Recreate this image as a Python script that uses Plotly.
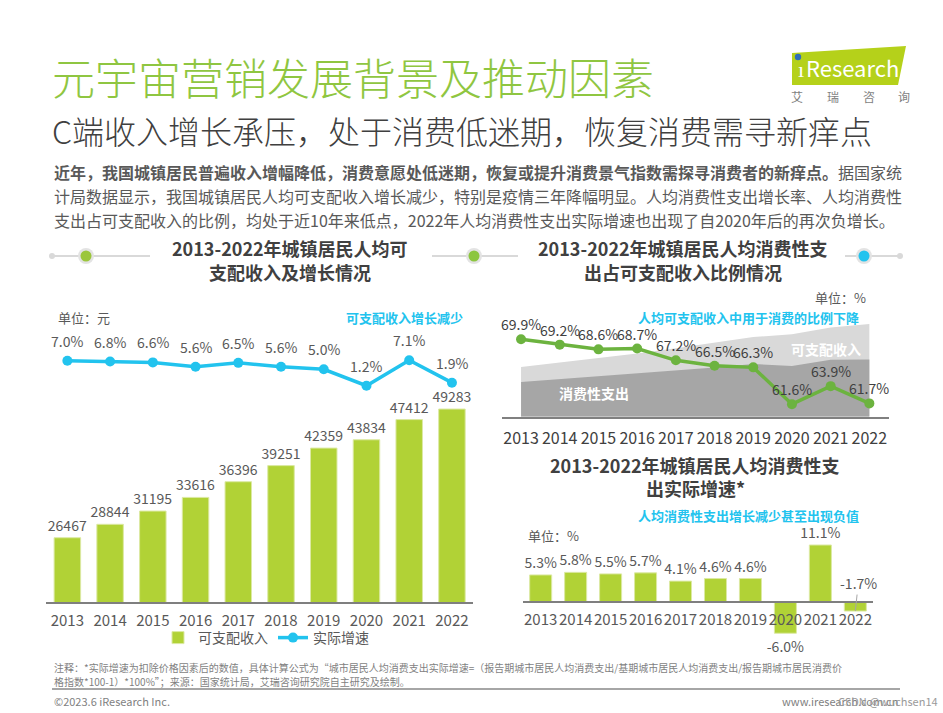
import plotly.graph_objects as go

W, H = 943, 713
FONT = "Noto Sans CJK SC"

years = ["2013", "2014", "2015", "2016", "2017", "2018", "2019", "2020", "2021", "2022"]
income = [26467, 28844, 31195, 33616, 36396, 39251, 42359, 43834, 47412, 49283]
income_growth = [7.0, 6.8, 6.6, 5.6, 6.5, 5.6, 5.0, 1.2, 7.1, 1.9]
consumption = [18488, 19968, 21392, 23079, 24445, 26112, 28063, 27007, 30307, 30391]
consume_ratio = [69.9, 69.2, 68.6, 68.7, 67.2, 66.5, 66.3, 61.6, 63.9, 61.7]
consume_growth = [5.3, 5.8, 5.5, 5.7, 4.1, 4.6, 4.6, -6.0, 11.1, -1.7]

GREEN_BAR = "#b1d236"
GREEN_LINE = "#6cb33f"
CYAN = "#22c3ee"
TITLE_GREEN = "#8fc641"
GREY_TXT = "#595959"
DARK_TXT = "#404040"


def px(x):
    return x / W


def py(y):
    return 1 - y / H


fig = go.Figure()

# ---- left chart: disposable income bars + growth line
fig.add_trace(go.Bar(
    x=years, y=income, name="可支配收入", xaxis="x", yaxis="y",
    marker=dict(color=GREEN_BAR, line=dict(color="#dce9a3", width=1)),
    width=0.62, text=[str(v) for v in income], textposition="outside",
    constraintext="none",
    textfont=dict(size=14, color=GREY_TXT, family=FONT), cliponaxis=False,
))
fig.add_trace(go.Scatter(
    x=years, y=income_growth, name="实际增速", xaxis="x", yaxis="y2",
    mode="lines+markers", line=dict(color=CYAN, width=3.5),
    marker=dict(color=CYAN, size=10), cliponaxis=False,
))

# ---- right top chart: share of income used for consumption
fig.add_trace(go.Scatter(
    x=years, y=income, xaxis="x2", yaxis="y3", mode="lines", fill="tozeroy",
    line=dict(width=0, color="#d9d9d9"), fillcolor="#d9d9d9", showlegend=False,
    hoverinfo="skip",
))
fig.add_trace(go.Scatter(
    x=years, y=consumption, xaxis="x2", yaxis="y3", mode="lines", fill="tozeroy",
    line=dict(width=0, color="#a6a6a6"), fillcolor="#a6a6a6", showlegend=False,
    hoverinfo="skip",
))
fig.add_trace(go.Scatter(
    x=years, y=consume_ratio, xaxis="x2", yaxis="y4", mode="lines+markers",
    line=dict(color=GREEN_LINE, width=3.5), marker=dict(color=GREEN_LINE, size=10),
    showlegend=False, cliponaxis=False,
))

# ---- right bottom chart: real consumption growth
bar_txt = [("" if y == "2022" else f"{v:.1f}%") for y, v in zip(years, consume_growth)]
fig.add_trace(go.Bar(
    x=years, y=consume_growth, xaxis="x3", yaxis="y5", showlegend=False,
    marker=dict(color=GREEN_BAR, line=dict(color="#dce9a3", width=1)),
    width=0.63, text=bar_txt, textposition="outside", constraintext="none",
    textfont=dict(size=14, color=GREY_TXT, family=FONT), cliponaxis=False,
))

annotations = []

# value labels for line charts (offset above points)
for i, v in enumerate(income_growth):
    annotations.append(dict(x=i, y=v, xref="x", yref="y2", text=f"{v:.1f}%",
                            showarrow=False, yshift=20,
                            font=dict(size=14, color=GREY_TXT, family=FONT)))
for i, v in enumerate(consume_ratio):
    annotations.append(dict(x=i, y=v, xref="x2", yref="y4", text=f"{v:.1f}%",
                            showarrow=False, yshift=15,
                            font=dict(size=14, color=DARK_TXT, family=FONT)))
annotations.append(dict(x=len(years) - 1, y=consume_growth[-1], xref="x3", yref="y5",
                        text=f"{consume_growth[-1]:.1f}%", showarrow=True, arrowhead=0,
                        arrowwidth=1, arrowcolor="#a6a6a6", ax=3, ay=-28,
                        font=dict(size=14, color=GREY_TXT, family=FONT)))


def note(x, y, text, size=14, color=GREY_TXT, xanchor="left", bold=False):
    if bold:
        text = f"<b>{text}</b>"
    annotations.append(dict(x=px(x), y=py(y), xref="paper", yref="paper", text=text,
                            showarrow=False, xanchor=xanchor, yanchor="middle",
                            font=dict(size=size, color=color, family=FONT)))


# titles
annotations.append(dict(x=px(50), y=py(76), xref="paper", yref="paper",
                        text="元宇宙营销发展背景及推动因素", showarrow=False,
                        xanchor="left", yanchor="middle",
                        font=dict(size=43, color=TITLE_GREEN, family=FONT, weight=300)))
annotations.append(dict(x=px(50), y=py(130), xref="paper", yref="paper",
                        text="C端收入增长承压，处于消费低迷期，恢复消费需寻新痒点", showarrow=False,
                        xanchor="left", yanchor="middle",
                        font=dict(size=32, color=DARK_TXT, family=FONT, weight=300)))

# paragraph
note(52, 172, "<b>近年，我国城镇居民普遍收入增幅降低，消费意愿处低迷期，恢复或提升消费景气指数需探寻消费者的新痒点。</b>据国家统", size=16, color=GREY_TXT)
note(52, 196, "计局数据显示，我国城镇居民人均可支配收入增长减少，特别是疫情三年降幅明显。人均消费性支出增长率、人均消费性", size=16)
note(52, 220, "支出占可支配收入的比例，均处于近10年来低点，2022年人均消费性支出实际增速也出现了自2020年后的再次负增长。", size=16)

# section headers
note(290, 248, "2013-2022年城镇居民人均可", size=18, color=DARK_TXT, xanchor="center", bold=True)
note(290, 272, "支配收入及增长情况", size=18, color=DARK_TXT, xanchor="center", bold=True)
note(683, 248, "2013-2022年城镇居民人均消费性支", size=18, color=DARK_TXT, xanchor="center", bold=True)
note(683, 272, "出占可支配收入比例情况", size=18, color=DARK_TXT, xanchor="center", bold=True)
note(695, 465, "2013-2022年城镇居民人均消费性支", size=18, color=DARK_TXT, xanchor="center", bold=True)
note(695, 488, "出实际增速*", size=18, color=DARK_TXT, xanchor="center", bold=True)

# chart notes
note(56, 317, "单位：元", size=13)
note(404, 317, "可支配收入增长减少", size=13, color=CYAN, xanchor="center", bold=True)
note(868, 297, "单位：%", size=13, xanchor="right")
note(748, 318, "人均可支配收入中用于消费的比例下降", size=13, color=CYAN, xanchor="center", bold=True)
note(826, 349, "可支配收入", size=14, color="white", xanchor="center", bold=True)
note(594, 393, "消费性支出", size=14, color="white", xanchor="center", bold=True)
note(748, 515, "人均消费性支出增长减少甚至出现负值", size=13, color=CYAN, xanchor="center", bold=True)
note(526, 535, "单位：%", size=13)

# logo
note(804, 67, "Research", size=22, color="white")
note(796, 67, "ı", size=22, color="white")
for cx, ch in zip([797, 833, 869, 904], ["艾", "瑞", "咨", "询"]):
    note(cx, 96, ch, size=12, color="#7f7f7f", xanchor="center")

# footer
note(52, 667, "注释：*实际增速为扣除价格因素后的数值，具体计算公式为“城市居民人均消费支出实际增速=（报告期城市居民人均消费支出/基期城市居民人均消费支出/报告期城市居民消费价", size=10, color="#7f7f7f")
note(52, 681, "格指数*100-1）*100%”；来源：国家统计局，艾瑞咨询研究院自主研究及绘制。", size=10, color="#7f7f7f")
note(52, 701, "©2023.6 iResearch Inc.", size=11, color="#7f7f7f")
note(900, 701, "www.iresearch.com.cn", size=11, color="#7f7f7f", xanchor="right")
note(940, 701, "CSDN @wuchsen14", size=11, color="#9a9a9a", xanchor="right")

shapes = []


def line(x0, y0, x1, y1, color="#d9d9d9", width=2):
    shapes.append(dict(type="line", xref="paper", yref="paper", x0=px(x0), y0=py(y0),
                       x1=px(x1), y1=py(y1), line=dict(color=color, width=width)))


def dot(x, y, r, color):
    shapes.append(dict(type="circle", xref="paper", yref="paper", x0=px(x - r), x1=px(x + r),
                       y0=py(y + r), y1=py(y - r), fillcolor=color, line=dict(width=0)))


# dividers
line(52, 256, 150, 256)
line(432, 256, 518, 256)
line(845, 256, 900, 256)
dot(52, 256, 3, "#d9d9d9")
dot(900, 256, 3, "#d9d9d9")
for x, c in [(86, "#9bc63b"), (474, "#8cc63f"), (864, CYAN)]:
    dot(x, 256, 8, "#e3e3e3")
    dot(x, 256, 5.5, c)

# logo shape
shapes.append(dict(type="path", xref="paper", yref="paper", layer="below",
                   path=f"M{px(792)},{py(53)} L{px(906)},{py(46)} L{px(898)},{py(85)} L{px(792)},{py(85)} Z",
                   fillcolor="#b5d11a", line=dict(width=0)))
dot(798, 57, 3.2, "#2f6fb7")

# footer rule
line(52, 689, 900, 689, color="#a6a6a6", width=2)

axis_common = dict(type="category", showgrid=False, zeroline=False, ticks="", tickangle=0,
                   tickfont=dict(size=15, color=GREY_TXT, family=FONT))

fig.update_layout(
    width=W, height=H, margin=dict(l=0, r=0, t=0, b=0),
    paper_bgcolor="white", plot_bgcolor="rgba(0,0,0,0)",
    font=dict(family=FONT, color=GREY_TXT),
    bargap=0.38,
    xaxis=dict(domain=[px(46), px(473.3)], anchor="y", range=[-0.5, 9.5],
               showline=True, linecolor="#7f7f7f", linewidth=1.5, ticklabelstandoff=4,
               **axis_common),
    yaxis=dict(domain=[py(602), py(400)], range=[15070, 50885], visible=False, anchor="x"),
    yaxis2=dict(domain=[py(400), py(340)], range=[-2.12, 11.8], visible=False, anchor="x"),
    xaxis2=dict(domain=[px(501.7), px(888.7)], anchor="y3", range=[-0.5, 9.5],
                showline=True, linecolor="#808080", linewidth=2, ticklabelstandoff=6,
                **{**axis_common, "tickfont": dict(size=16, color=DARK_TXT, family=FONT)}),
    yaxis3=dict(domain=[py(416.7), py(316.7)], range=[0, 53200], visible=False, anchor="x2"),
    yaxis4=dict(domain=[py(416.7), py(316.7)], range=[60, 72.77], visible=False,
                anchor="x2", overlaying="y3"),
    xaxis3=dict(domain=[px(523.2), px(872.8)], anchor="free", position=py(602.3),
                range=[-0.5, 9.5], showline=True, linecolor="#7f7f7f", linewidth=1.5,
                ticklabelstandoff=4, **axis_common),
    yaxis5=dict(domain=[py(640), py(540)], range=[-7.31, 12.07], visible=False, anchor="x3"),
    legend=dict(orientation="h", x=px(158), y=py(638), xanchor="left", yanchor="middle",
                font=dict(size=14, color=GREY_TXT, family=FONT), bgcolor="rgba(0,0,0,0)",
                itemwidth=30, tracegroupgap=0),
    annotations=annotations,
    shapes=shapes,
    showlegend=True,
)

fig.write_html("out.html")
